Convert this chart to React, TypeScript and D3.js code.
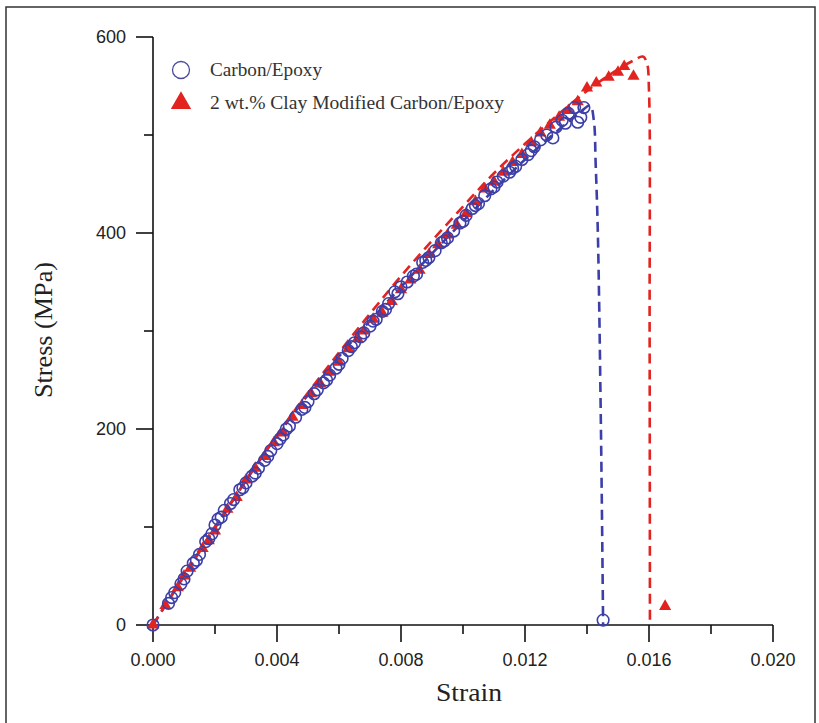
import React from "react";
import * as d3 from "d3";

const xTicks = [0, 0.004, 0.008, 0.012, 0.016, 0.02];
const xMinorTicks = [0.002, 0.006, 0.01, 0.014, 0.018];
const yTicks = [0, 200, 400, 600];
const yMinorTicks = [100, 300, 500];

const blueCircles: [number, number][] = [
  [0, 0], [0.0005, 22], [0.0006, 28], [0.0007, 33], [0.0009, 42], [0.001, 47], [0.0011, 55],
  [0.0013, 63], [0.0014, 66], [0.0015, 72], [0.0017, 85], [0.0018, 88], [0.0019, 93],
  [0.002, 102], [0.0021, 108], [0.0022, 110], [0.0023, 117], [0.0025, 124], [0.0026, 128],
  [0.0028, 138], [0.0029, 140], [0.003, 145], [0.0032, 152], [0.0033, 155], [0.0034, 160],
  [0.0036, 168], [0.0037, 172], [0.0038, 178], [0.004, 185], [0.0041, 190], [0.0042, 194],
  [0.0043, 200], [0.0044, 203], [0.0046, 212], [0.0048, 220], [0.0049, 222], [0.005, 228],
  [0.0052, 236], [0.0053, 240], [0.0055, 247], [0.0056, 250], [0.0057, 255], [0.0059, 262],
  [0.006, 266], [0.0061, 272], [0.0063, 280], [0.0064, 284], [0.0065, 288], [0.0067, 294],
  [0.0068, 298], [0.007, 305], [0.0071, 310], [0.0072, 312], [0.0074, 320], [0.0075, 322],
  [0.0076, 328], [0.0078, 340], [0.0079, 338], [0.008, 345], [0.0082, 350], [0.0084, 356],
  [0.0085, 358], [0.0087, 370], [0.0088, 372], [0.0089, 375], [0.0091, 382], [0.0093, 390],
  [0.0094, 392], [0.0095, 395], [0.0097, 402], [0.0099, 410], [0.01, 412], [0.0101, 418],
  [0.0103, 425], [0.0104, 428], [0.0105, 430], [0.0107, 438], [0.0109, 445], [0.011, 447],
  [0.0111, 452], [0.0113, 458], [0.0115, 462], [0.0116, 466], [0.0117, 468], [0.0119, 475],
  [0.0121, 480], [0.0122, 484], [0.0123, 488], [0.0125, 495], [0.0127, 500], [0.0129, 497],
  [0.013, 508], [0.0132, 515], [0.0133, 512], [0.0134, 522], [0.0136, 528], [0.0137, 513],
  [0.0138, 518], [0.0139, 528], [0.01452, 5],
];

const redTriangles: [number, number][] = [
  [0, 0], [0.0004, 20], [0.0008, 38], [0.001, 50], [0.0012, 58], [0.0016, 78], [0.0018, 86],
  [0.002, 96], [0.0024, 118], [0.0027, 130], [0.003, 148], [0.0033, 160], [0.0036, 172],
  [0.0039, 186], [0.0042, 196], [0.0045, 212], [0.0048, 224], [0.0051, 236], [0.0054, 246],
  [0.0057, 258], [0.006, 268], [0.0063, 282], [0.0066, 292], [0.0068, 300], [0.0071, 312],
  [0.0074, 318], [0.0077, 330], [0.008, 342], [0.0083, 352], [0.0086, 362], [0.0089, 378],
  [0.0092, 388], [0.0095, 398], [0.0098, 408], [0.0101, 420], [0.0104, 432], [0.0107, 445],
  [0.011, 452], [0.0113, 462], [0.0116, 472], [0.0119, 480], [0.0122, 492], [0.0125, 502],
  [0.0128, 510], [0.0131, 518], [0.0134, 525], [0.0137, 534], [0.014, 548], [0.0143, 553],
  [0.0147, 559], [0.015, 564], [0.0152, 570], [0.0155, 560], [0.01652, 19],
];

const blueCurve: [number, number][] = [
  [0, 0], [0.002, 100], [0.004, 193], [0.006, 274], [0.008, 345], [0.01, 412], [0.012, 475],
  [0.013, 503], [0.0138, 524], [0.0141, 530], [0.01422, 515], [0.01428, 470], [0.01435, 400],
  [0.01445, 200], [0.01452, 0],
];

const redCurve: [number, number][] = [
  [0, 0], [0.002, 99], [0.004, 194], [0.006, 278], [0.008, 356], [0.009, 392], [0.01, 427],
  [0.011, 461], [0.012, 491], [0.013, 519], [0.014, 545], [0.015, 567], [0.0155, 576],
  [0.0158, 580], [0.01593, 574], [0.016, 545], [0.01602, 300], [0.01603, 0],
];

const legendLabels = ["Carbon/Epoxy", "2 wt.% Clay Modified Carbon/Epoxy"];

const BLUE = "#3c3fa8";
const RED = "#e2231f";

export default function App() {
  const x = d3.scaleLinear().domain([0, 0.02]).range([153, 773]);
  const y = d3.scaleLinear().domain([0, 600]).range([625, 37]);
  const lineX = d3
    .line<[number, number]>()
    .x((d) => x(d[0]))
    .y((d) => y(d[1]))
    .curve(d3.curveCatmullRom.alpha(0.5));
  const tri = d3.symbol().type(d3.symbolTriangle).size(64)();
  const triLegend = d3.symbol().type(d3.symbolTriangle).size(180)();
  const fmt = d3.format(".3f");
  const sans = "'Liberation Sans', Arial, sans-serif";
  const serif = "'Liberation Serif', 'Times New Roman', serif";

  return (
    <svg
      width={819}
      height={723}
      style={{ position: "absolute", left: 0, top: 0, background: "#fff" }}
    >
      <rect x={6} y={7} width={809} height={730} fill="#fff" stroke="#333" strokeWidth={1.5} />

      {/* axes */}
      <line x1={x(0)} x2={x(0)} y1={y(0)} y2={y(600)} stroke="#111" strokeWidth={1.6} />
      <line x1={x(0)} x2={x(0.02)} y1={y(0)} y2={y(0)} stroke="#111" strokeWidth={1.6} />
      {yTicks.map((t) => (
        <g key={"y" + t}>
          <line x1={x(0) - 17} x2={x(0)} y1={y(t)} y2={y(t)} stroke="#111" strokeWidth={1.6} />
          <text x={x(0) - 27} y={y(t)} dy="0.35em" textAnchor="end" fontFamily={sans} fontSize={18} fill="#222">
            {t}
          </text>
        </g>
      ))}
      {yMinorTicks.map((t) => (
        <line key={"ym" + t} x1={x(0) - 9} x2={x(0)} y1={y(t)} y2={y(t)} stroke="#111" strokeWidth={1.6} />
      ))}
      {xTicks.map((t) => (
        <g key={"x" + t}>
          <line x1={x(t)} x2={x(t)} y1={y(0)} y2={y(0) + 17} stroke="#111" strokeWidth={1.6} />
          <text x={x(t)} y={y(0) + 41} textAnchor="middle" fontFamily={sans} fontSize={18} fill="#222">
            {fmt(t)}
          </text>
        </g>
      ))}
      {xMinorTicks.map((t) => (
        <line key={"xm" + t} x1={x(t)} x2={x(t)} y1={y(0)} y2={y(0) + 9} stroke="#111" strokeWidth={1.6} />
      ))}

      <text x={469} y={701} textAnchor="middle" fontFamily={serif} fontSize={25} fill="#222"
        textLength={66} lengthAdjust="spacingAndGlyphs">
        Strain
      </text>
      <text
        transform="translate(52,330) rotate(-90)"
        textAnchor="middle"
        fontFamily={serif}
        fontSize={25}
        fill="#222"
        textLength={136}
        lengthAdjust="spacingAndGlyphs"
      >
        Stress (MPa)
      </text>

      {/* fitted dashed curves */}
      <path d={lineX(blueCurve) || ""} fill="none" stroke={BLUE} strokeWidth={2.6} strokeDasharray="10,6" />
      <path d={lineX(redCurve) || ""} fill="none" stroke={RED} strokeWidth={2.6} strokeDasharray="10,6" />

      {/* data */}
      {redTriangles.map((d, i) => (
        <path key={"r" + i} d={tri || ""} transform={`translate(${x(d[0])},${y(d[1])})`} fill={RED} />
      ))}
      {blueCircles.map((d, i) => (
        <circle key={"b" + i} cx={x(d[0])} cy={y(d[1])} r={5.8} fill="none" stroke={BLUE} strokeWidth={1.6} />
      ))}

      {/* legend */}
      <circle cx={181} cy={70} r={8.5} fill="none" stroke="#4a4c9c" strokeWidth={1.3} />
      <text x={210} y={70} dy="0.35em" fontFamily={serif} fontSize={18} fill="#333"
        textLength={112} lengthAdjust="spacingAndGlyphs">
        {legendLabels[0]}
      </text>
      <path d={triLegend || ""} transform="translate(181,103)" fill={RED} />
      <text x={210} y={103} dy="0.35em" fontFamily={serif} fontSize={18} fill="#333"
        textLength={294} lengthAdjust="spacingAndGlyphs">
        {legendLabels[1]}
      </text>
    </svg>
  );
}
